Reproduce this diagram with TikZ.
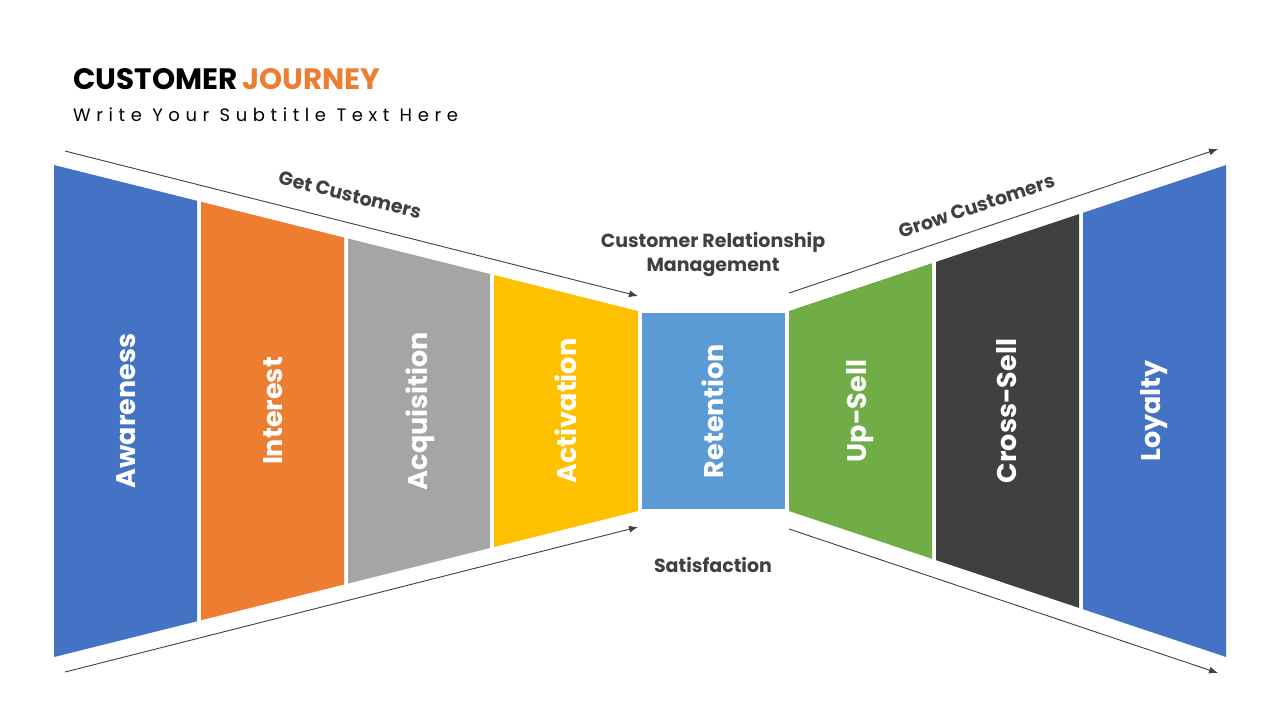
\documentclass[tikz,border=0pt]{standalone}
\usepackage{fontspec}
\setmainfont{Poppins}
\usetikzlibrary{arrows.meta}
\definecolor{cblue}{HTML}{4472C4}
\definecolor{corange}{HTML}{ED7D31}
\definecolor{cgray}{HTML}{A5A5A5}
\definecolor{cyellow}{HTML}{FFC000}
\definecolor{clblue}{HTML}{5B9BD5}
\definecolor{cgreen}{HTML}{70AD47}
\definecolor{cdark}{HTML}{404040}
\definecolor{ctext}{HTML}{404040}
\begin{document}
\begin{tikzpicture}[x=1pt,y=-1pt,
  panellabel/.style={text=white,font=\fontsize{27}{32}\selectfont\bfseries,rotate=90,inner sep=0pt},
  flowlabel/.style={text=ctext,font=\fontsize{19}{24}\selectfont\bfseries,inner sep=0pt,align=center},
  flowarrow/.style={draw=ctext,line width=0.9pt,-{Latex[length=9pt,width=7pt]}}]
\useasboundingbox[fill=white] (0,0) rectangle (1280,720);
% title
\node[anchor=base west,inner sep=0pt,font=\fontsize{29.5}{34}\selectfont\bfseries] (title) at (73,89) {CUSTOMER\hspace{5pt}\textcolor{corange}{JOURNEY}};
\node[anchor=base west,inner sep=0pt,font=\fontsize{18}{21}\selectfont\addfontfeature{LetterSpace=31}] (subtitle) at (73,121) {Write Your Subtitle Text Here};
% panels
\fill[cblue] (54,165) -- (197,200.75) -- (197,621.25) -- (54,657) -- cycle;
\fill[corange] (201,201.75) -- (344,237.5) -- (344,584.5) -- (201,620.25) -- cycle;
\fill[cgray] (348,238.5) -- (490,274) -- (490,548) -- (348,583.5) -- cycle;
\fill[cyellow] (494,275) -- (638,311) -- (638,511) -- (494,547) -- cycle;
\fill[clblue] (642,313) rectangle (785,509);
\fill[cgreen] (789,311) -- (932,263.22) -- (932,558.78) -- (789,511) -- cycle;
\fill[cdark] (936,261.89) -- (1079,214.11) -- (1079,607.89) -- (936,560.11) -- cycle;
\fill[cblue] (1083,212.78) -- (1226,165) -- (1226,657) -- (1083,609.22) -- cycle;
% panel labels
\node[panellabel] (awareness) at (126,411) {Awareness};
\node[panellabel] (interest) at (273,411) {Interest};
\node[panellabel] (acquisition) at (420,411) {Acquisition};
\node[panellabel] (activation) at (566,411) {Activation};
\node[panellabel] (retention) at (713,411) {Retention};
\node[panellabel] (upsell) at (860,411) {Up-Sell};
\node[panellabel] (crosssell) at (1007,411) {Cross-Sell};
\node[panellabel] (loyalty) at (1154,411) {Loyalty};
% arrows
\coordinate (tl0) at (65,151);
\coordinate (tl1) at (638,296);
\coordinate (bl0) at (65,672);
\coordinate (bl1) at (638,527);
\coordinate (tr0) at (789,293);
\coordinate (tr1) at (1218,149);
\coordinate (br0) at (789,529);
\coordinate (br1) at (1218,673);
\draw[flowarrow] (tl0) -- (tl1);
\draw[flowarrow] (bl0) -- (bl1);
\draw[flowarrow] (tr0) -- (tr1);
\draw[flowarrow] (br0) -- (br1);
% flow labels
\node[flowlabel,rotate=-14.04] (get) at (350,195) {Get Customers};
\node[flowlabel,rotate=18.47] (grow) at (977,206) {Grow Customers};
\node[flowlabel] (crm) at (713,254) {Customer Relationship\\Management};
\node[flowlabel] (sat) at (713,565) {Satisfaction};
\end{tikzpicture}
\end{document}
